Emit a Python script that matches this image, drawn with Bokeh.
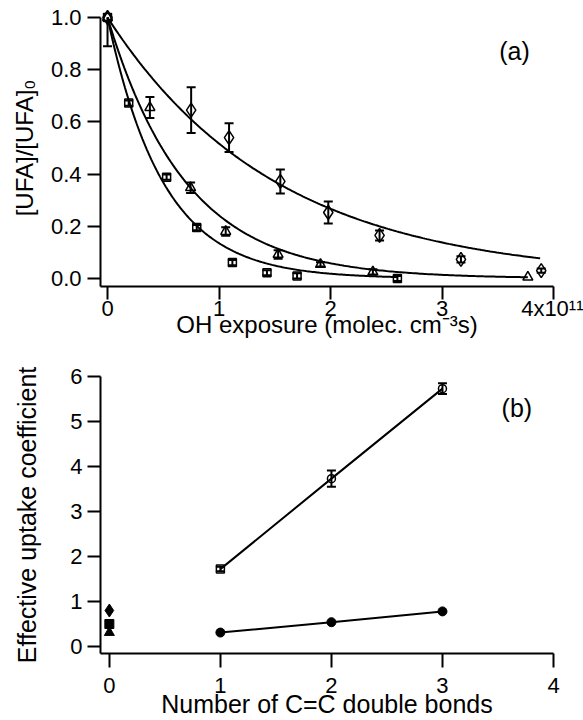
import numpy as np
from bokeh.plotting import figure
from bokeh.models import (ColumnDataSource, Whisker, TeeHead, Label, FixedTicker,
                          Range1d)
from bokeh.layouts import column
from bokeh.embed import file_html
from bokeh.resources import INLINE

# ---------------- data: panel (a) ----------------
x_dia = [0.0, 0.75, 1.09, 1.55, 1.98, 2.44, 3.17, 3.89]
y_dia = [1.0, 0.645, 0.54, 0.372, 0.253, 0.165, 0.073, 0.03]
e_dia = [0.0, 0.088, 0.055, 0.046, 0.042, 0.019, 0.012, 0.008]

x_tri = [0.0, 0.38, 0.745, 1.06, 1.53, 1.91, 2.38, 3.77]
y_tri = [1.0, 0.655, 0.348, 0.18, 0.092, 0.054, 0.025, 0.005]
e_tri = [0.0, 0.04, 0.02, 0.016, 0.016, 0.008, 0.01, 0.0]

x_sq = [0.0, 0.19, 0.53, 0.80, 1.12, 1.43, 1.70, 2.60]
y_sq = [1.0, 0.672, 0.388, 0.195, 0.061, 0.022, 0.01, 0.0]
e_sq = [0.0, 0.01, 0.01, 0.01, 0.01, 0.01, 0.01, 0.01]

start_err_low = 0.11          # lower error of the common x=0 point

# exponential fit decay constants (per 1e11 molec cm-3 s) and fit extents
k_fit = [0.66, 1.42, 2.0]
x_fit_end = [3.88, 3.77, 2.60]

xa_ticks = [0, 1, 2, 3, 4]
xa_labels = {0: "0", 1: "1", 2: "2", 3: "3", 4: "4x10\u00b9\u00b9"}
ya_ticks = [0.0, 0.2, 0.4, 0.6, 0.8, 1.0]
xa_title = "OH exposure (molec. cm\u207b\u00b3s)"
ya_title = "[UFA]/[UFA]\u2080"

# ---------------- data: panel (b) ----------------
n_bonds = [1, 2, 3]
gamma_open = [1.72, 3.73, 5.73]
gamma_open_err = [0.05, 0.18, 0.12]
open_markers = ["square", "circle", "circle"]
gamma_filled = [0.31, 0.54, 0.78]
zero_markers = ["diamond", "square", "triangle"]
zero_values = [0.80, 0.50, 0.31]

xb_ticks = [0, 1, 2, 3, 4]
yb_ticks = [0, 1, 2, 3, 4, 5, 6]
xb_title = "Number of C=C double bonds"
yb_title = "Effective uptake coefficient"

FONT = "Liberation Sans"
TICK_FS = "22px"

# ---------------- layout geometry (pixels) ----------------
W = 583
HA, HB = 345, 375
A_left, A_right, A_top, A_bot = 100, 553, 9, 286
B_left, B_right, B_top, B_bot = 100, 561, 376, 653

XA = (-0.063, 4.0)
YA = (-8 / 261, 1 + 8 / 261)
XB = (-9 / 113, 4.0)
YB = (-7 / 45, 6.0)


def style(p, lab_fs):
    p.grid.visible = False
    p.outline_line_color = None
    p.background_fill_color = "white"
    p.border_fill_color = "white"
    for a in (p.xaxis[0], p.yaxis[0]):
        a.axis_line_width = 2
        a.axis_line_color = "black"
        a.major_tick_line_width = 2
        a.major_tick_line_color = "black"
        a.major_tick_out = 13
        a.major_tick_in = 0
        a.minor_tick_line_color = None
        a.major_label_text_font = FONT
        a.major_label_text_font_size = TICK_FS
        a.major_label_text_color = "black"
        a.axis_label_text_font = FONT
        a.axis_label_text_font_size = lab_fs
        a.axis_label_text_font_style = "normal"
        a.axis_label_text_color = "black"


def whisk(p, xs, ys, lo_err, hi_err, head=9, upper_cap=True):
    src = ColumnDataSource(dict(x=xs, up=[y + e for y, e in zip(ys, hi_err)],
                                lo=[y - e for y, e in zip(ys, lo_err)]))
    p.add_layout(Whisker(source=src, base="x", upper="up", lower="lo",
                         dimension="height", line_width=2, line_color="black",
                         upper_head=TeeHead(size=head, line_width=2) if upper_cap else None,
                         lower_head=TeeHead(size=head, line_width=2)))


# ---------------- panel (a) ----------------
pa = figure(width=W, height=HA, output_backend="svg", toolbar_location=None,
            x_range=Range1d(*XA), y_range=Range1d(*YA),
            min_border_left=A_left, min_border_right=W - A_right,
            min_border_top=A_top, min_border_bottom=HA - A_bot)
style(pa, "24px")
pa.xaxis.ticker = FixedTicker(ticks=xa_ticks)
pa.xaxis.major_label_overrides = xa_labels
pa.xaxis.major_label_standoff = -4
pa.xaxis.axis_label = xa_title
pa.xaxis.axis_label_standoff = -13
pa.yaxis.ticker = FixedTicker(ticks=ya_ticks)
pa.yaxis.major_label_overrides = {t: f"{t:.1f}" for t in ya_ticks}
pa.yaxis.major_label_standoff = 6
pa.yaxis.axis_label = ya_title
pa.yaxis.axis_label_standoff = 10
pa.yaxis.bounds = (YA[0], 1.0)

for k, xe in zip(k_fit, x_fit_end):
    xs = np.linspace(0, xe, 200)
    pa.line(xs, np.exp(-k * xs), line_color="black", line_width=2)

for xs, ys, es in ((x_dia, y_dia, e_dia), (x_tri, y_tri, e_tri), (x_sq, y_sq, e_sq)):
    keep = [i for i, e in enumerate(es) if e > 0]
    whisk(pa, [xs[i] for i in keep], [ys[i] for i in keep],
          [es[i] for i in keep], [es[i] for i in keep])
whisk(pa, [x_dia[0]], [y_dia[0]], [start_err_low], [0.0], upper_cap=False)

pa.scatter(x_dia, y_dia, marker="diamond", size=14, fill_color=None,
           line_color="black", line_width=1.5)
pa.scatter(x_tri, y_tri, marker="triangle", size=10, fill_color=None,
           line_color="black", line_width=1.5)
pa.scatter(x_sq, y_sq, marker="square", size=8, fill_color=None,
           line_color="black", line_width=1.5)

pa.add_layout(Label(x=3.65, y=0.87, text="(a)", text_font=FONT, text_font_size="25px",
                    text_color="black", text_align="center", text_baseline="middle"))

# ---------------- panel (b) ----------------
pb = figure(width=W, height=HB, output_backend="svg", toolbar_location=None,
            x_range=Range1d(*XB), y_range=Range1d(*YB),
            min_border_left=B_left, min_border_right=W - B_right,
            min_border_top=B_top - HA, min_border_bottom=HA + HB - B_bot)
style(pb, "25px")
pb.xaxis.ticker = FixedTicker(ticks=xb_ticks)
pb.xaxis.major_tick_out = 14
pb.xaxis.major_label_standoff = 10
pb.xaxis.axis_label = xb_title
pb.xaxis.axis_label_standoff = -6
pb.yaxis.ticker = FixedTicker(ticks=yb_ticks)
pb.yaxis.major_label_standoff = 5
pb.yaxis.axis_label = yb_title
pb.yaxis.axis_label_standoff = 26

pb.line(n_bonds, gamma_open, line_color="black", line_width=2)
pb.line(n_bonds, gamma_filled, line_color="black", line_width=2)
whisk(pb, n_bonds, gamma_open, gamma_open_err, gamma_open_err)
pb.scatter(n_bonds, gamma_open, marker=open_markers, size=8, fill_color=None,
           line_color="black", line_width=1.5)
pb.scatter(n_bonds, gamma_filled, marker="circle", size=9, fill_color="black",
           line_color="black")
pb.scatter([0] * 3, zero_values, marker=zero_markers, size=[13, 9, 10],
           fill_color="black", line_color="black")

pb.add_layout(Label(x=3.67, y=5.31, text="(b)", text_font=FONT, text_font_size="25px",
                    text_color="black", text_align="center", text_baseline="middle"))

layout = column(pa, pb)
open("out.html", "w").write(file_html(layout, INLINE))
